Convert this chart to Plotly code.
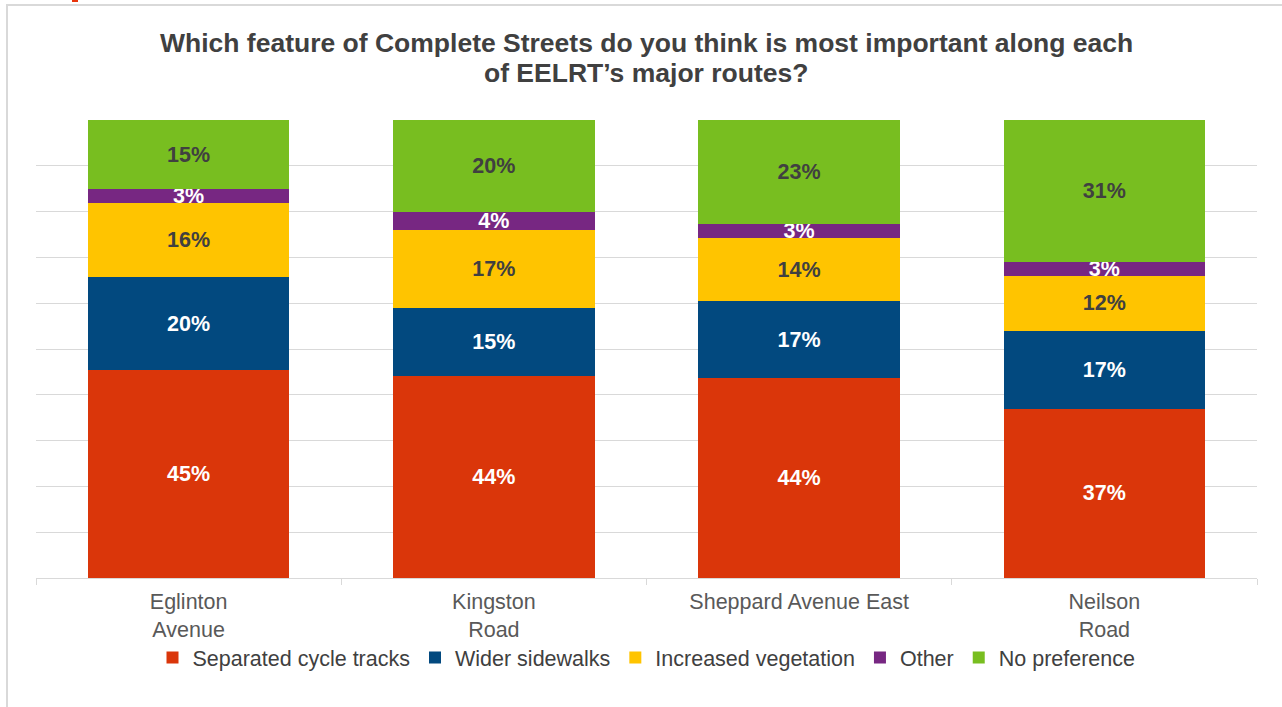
import plotly.graph_objects as go

categories = ["Eglinton<br>Avenue", "Kingston<br>Road", "Sheppard Avenue East", "Neilson<br>Road"]
series_names = ["Separated cycle tracks", "Wider sidewalks", "Increased vegetation", "Other", "No preference"]
separated = [45, 44, 44, 37]
wider = [20, 15, 17, 17]
vegetation = [16, 17, 14, 12]
other = [3, 4, 3, 3]
no_pref = [15, 20, 23, 31]
title_lines = ["Which feature of Complete Streets do you think is most important along each",
               "of EELRT’s major routes?"]

colors = ["#DA360A", "#02497F", "#FFC400", "#772782", "#78BE20"]
text_colors = ["#FFFFFF", "#FFFFFF", "#404040", "#FFFFFF", "#404040"]

fig = go.Figure()
for name, vals, c, tc in zip(series_names, [separated, wider, vegetation, other, no_pref], colors, text_colors):
    fig.add_trace(go.Bar(
        x=categories, y=vals, name=name,
        marker=dict(color=c, line=dict(width=0)),
        text=[f"{v}%" for v in vals],
        textposition="inside", insidetextanchor="middle", textangle=0,
        textfont=dict(family="Liberation Sans, Arial", size=21.5, color=tc, weight="bold"),
    ))

PLOT_H = 458
title_ys = [43, 73]
annotations = [
    dict(text=f"<b>{t}</b>", xref="paper", yref="paper", x=(646 - 36) / 1221,
         y=(578 - py) / PLOT_H, xanchor="center", yanchor="middle", showarrow=False,
         font=dict(family="Liberation Sans, Arial", size=26.5, color="#404040"))
    for t, py in zip(title_lines, title_ys)
]

fig.update_layout(
    barmode="stack", barnorm="percent", bargap=0.34,
    width=1282, height=707,
    margin=dict(l=36, r=25, t=120, b=129),
    paper_bgcolor="white", plot_bgcolor="white",
    uniformtext=dict(minsize=21.5, mode="show"),
    font=dict(family="Liberation Sans, Arial", color="#595959", size=21.5),
    annotations=annotations,
    showlegend=True,
    legend=dict(orientation="h", x=0.5, xanchor="center", y=-0.129, yanchor="top",
                font=dict(size=21.5, color="#404040"), traceorder="normal",
                itemwidth=30, bgcolor="rgba(0,0,0,0)"),
    xaxis=dict(showline=True, linecolor="#D9D9D9", linewidth=1, ticks="outside",
               tickson="boundaries", ticklen=6, tickcolor="#D9D9D9",
               ticklabelstandoff=4,
               tickfont=dict(size=21.5, color="#595959")),
    yaxis=dict(range=[0, 100], dtick=10, showgrid=True, gridcolor="#D9D9D9",
               gridwidth=1, showticklabels=False, zeroline=False, fixedrange=True),
    shapes=[
        dict(type="rect", xref="paper", yref="paper",
             x0=(7 - 36) / 1221, x1=1.1, y0=(578 - 5) / 458, y1=-0.5,
             line=dict(color="#D9D9D9", width=2), fillcolor="rgba(0,0,0,0)", layer="below"),
        dict(type="rect", xref="paper", yref="paper",
             x0=(72 - 36) / 1221, x1=(78 - 36) / 1221, y0=(578 - 0) / 458, y1=(578 - 2) / 458,
             line=dict(width=0), fillcolor="#E8340C", layer="above"),
    ],
)

fig.write_html("out.html")
